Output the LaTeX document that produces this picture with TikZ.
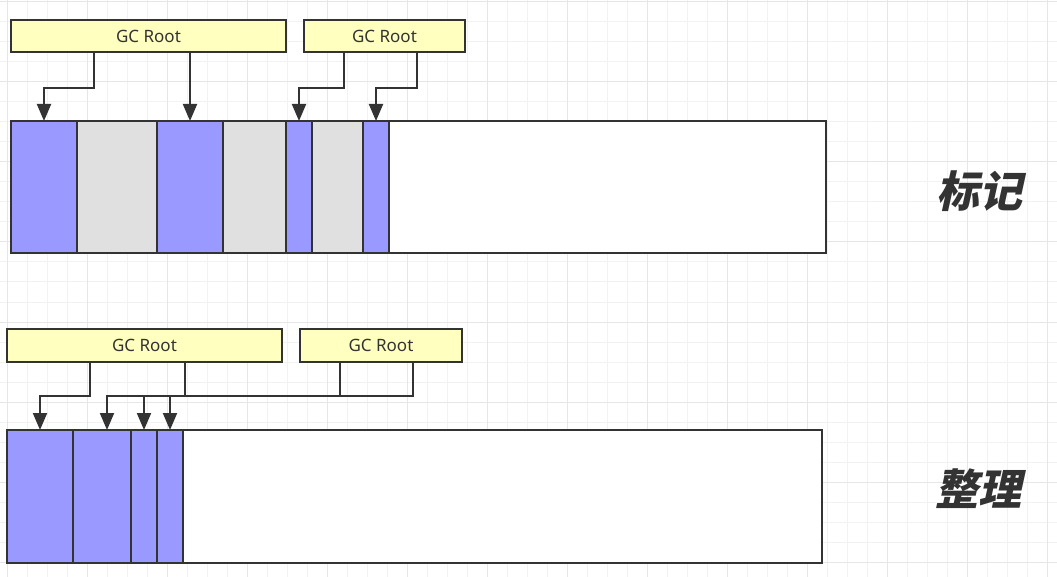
\documentclass[tikz,border=0pt]{standalone}
\usepackage{fontspec}
\usepackage{tikz}
\usetikzlibrary{arrows.meta,positioning}
\newfontfamily\rootfont{Noto Sans}
\newfontfamily\cjkfont[FakeSlant=0.22]{Noto Sans CJK SC}
\definecolor{linedark}{HTML}{333333}
\definecolor{livecell}{HTML}{9999FF}
\definecolor{deadcell}{HTML}{E0E0E0}
\definecolor{rootfill}{HTML}{FFFFC0}
\definecolor{gridminor}{HTML}{F2F2F2}
\definecolor{gridmajor}{HTML}{E6E6E6}
\tikzset{
  rootbox/.style={rectangle,draw=linedark,fill=rootfill,line width=2pt,inner sep=0pt,
    minimum height=32pt,text=linedark,font=\rootfont\fontsize{17}{17}\selectfont},
  cell/.style={rectangle,draw=linedark,fill=#1,line width=2pt,inner sep=0pt,outer sep=0pt,
    minimum height=132pt},
  cell/.default=white,
  conn/.style={-{Triangle[length=17pt,width=14pt]},line width=2pt,draw=linedark},
  link/.style={line width=2pt,draw=linedark},
  tag/.style={text=linedark,font=\cjkfont\bfseries\fontsize{43}{43}\selectfont},
  gridline/.style={line width=1pt,draw=#1},
  gridline/.default=gridminor
}
\begin{document}
\begin{tikzpicture}[x=1pt,y=-1pt,node distance=0pt]
\useasboundingbox (0,0) rectangle (1057,577);
% background grid
\foreach \gx in {7,27,...,1057} \draw[gridline] (\gx,0) -- (\gx,577);
\foreach \gy in {2,22,...,577} \draw[gridline] (0,\gy) -- (1057,\gy);
\foreach \gx in {7,87,...,1057} \draw[gridline=gridmajor] (\gx,0) -- (\gx,577);
\foreach \gy in {2,82,...,577} \draw[gridline=gridmajor] (0,\gy) -- (1057,\gy);

% mark phase
\node[rootbox,minimum width=275pt] (rootl) at (148.5,36) {GC Root};
\node[rootbox,minimum width=161pt] (rootr) at (384.5,36) {GC Root};
\node[cell=livecell,minimum width=66pt,anchor=west] (ma1) at (11,187) {};
\node[cell=deadcell,minimum width=80pt,right=of ma1] (ma2) {};
\node[cell=livecell,minimum width=66pt,right=of ma2] (ma3) {};
\node[cell=deadcell,minimum width=63pt,right=of ma3] (ma4) {};
\node[cell=livecell,minimum width=26pt,right=of ma4] (ma5) {};
\node[cell=deadcell,minimum width=51pt,right=of ma5] (ma6) {};
\node[cell=livecell,minimum width=26pt,right=of ma6] (ma7) {};
\node[cell,minimum width=437pt,right=of ma7] (ma8) {};
\draw[conn] ([xshift=84pt]rootl.south west) -- ++(0,35) -| (ma1.north);
\draw[conn] (ma3.north |- rootl.south) -- (ma3.north);
\draw[conn] ([xshift=41pt]rootr.south west) -- ++(0,35) -| (ma5.north);
\draw[conn] ([xshift=114pt]rootr.south west) -- ++(0,35) -| (ma7.north);
\node[tag] (markl) at (979,191) {标记};

% compact phase
\node[rootbox,minimum width=275pt,minimum height=33pt] (rootc) at (144.5,345.5) {GC Root};
\node[rootbox,minimum width=162pt,minimum height=33pt] (rootd) at (381,345.5) {GC Root};
\node[cell=livecell,minimum width=66pt,minimum height=133pt,anchor=west] (mb1) at (7,496.5) {};
\node[cell=livecell,minimum width=58pt,minimum height=133pt,right=of mb1] (mb2) {};
\node[cell=livecell,minimum width=26pt,minimum height=133pt,right=of mb2] (mb3) {};
\node[cell=livecell,minimum width=26pt,minimum height=133pt,right=of mb3] (mb4) {};
\node[cell,minimum width=639pt,minimum height=133pt,right=of mb4] (mb5) {};
\coordinate (bus) at ([yshift=-33pt]rootd.south);
\draw[conn] ([xshift=84pt]rootc.south west) -- ++(0,33) -| (mb1.north);
\draw[link] ([xshift=179pt]rootc.south west) -- ++(0,33);
\draw[link] ([xshift=41pt]rootd.south west) -- ++(0,33);
\draw[conn] ([xshift=114pt]rootd.south west) |- ([xshift=5pt]mb2.north |- bus) -- ([xshift=5pt]mb2.north);
\draw[conn] (mb3.north |- bus) -- (mb3.north);
\draw[conn] (mb4.north |- bus) -- (mb4.north);
\node[tag] (compactl) at (978,489) {整理};
\end{tikzpicture}
\end{document}
